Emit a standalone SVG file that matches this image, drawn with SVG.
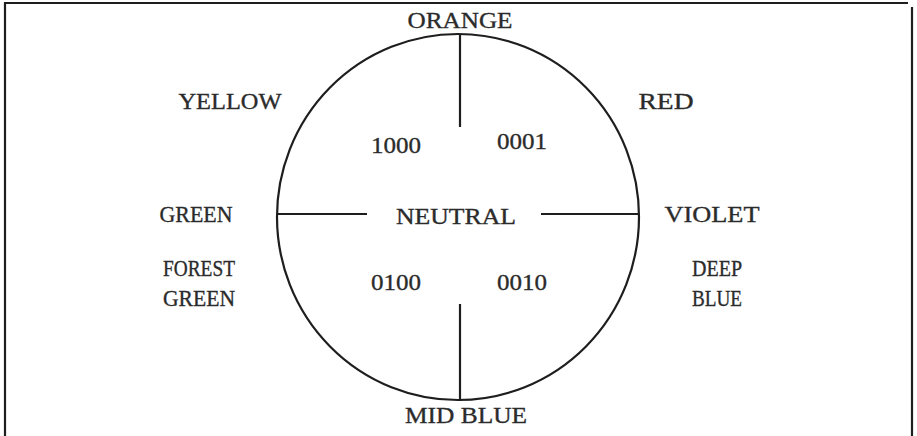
<svg xmlns="http://www.w3.org/2000/svg" width="917" height="436" viewBox="0 0 917 436">
<style>
text{font-family:"Liberation Serif","Times New Roman",serif;font-size:24px;fill:#2b2b2b;stroke:#2b2b2b;stroke-width:0.35;text-anchor:middle}
.ln{stroke:#1e1e1e;stroke-width:2.2;fill:none}
</style>
<rect width="917" height="436" fill="#fff"/>
<g id="frame"><path class="ln" d="M5,436 V3 H908 M912,7 V436"/></g>
<g id="wheel"><ellipse class="ln" cx="458" cy="217" rx="181" ry="183"/></g>
<g id="connectors">
<line class="ln" x1="460" y1="35" x2="460" y2="127"/>
<line class="ln" x1="460" y1="304" x2="460" y2="401"/>
<line class="ln" x1="277" y1="214" x2="367" y2="214"/>
<line class="ln" x1="541" y1="214" x2="639" y2="214"/>
</g>
<g id="orange"><text x="460" y="28" textLength="105" lengthAdjust="spacingAndGlyphs">ORANGE</text></g>
<g id="red"><text x="666" y="109" textLength="55" lengthAdjust="spacingAndGlyphs">RED</text></g>
<g id="yellow"><text x="230" y="109" textLength="103" lengthAdjust="spacingAndGlyphs">YELLOW</text></g>
<g id="c1000"><text x="396" y="153" textLength="50" lengthAdjust="spacingAndGlyphs">1000</text></g>
<g id="c0001"><text x="522" y="149" textLength="50" lengthAdjust="spacingAndGlyphs">0001</text></g>
<g id="green"><text x="196" y="222" textLength="73" lengthAdjust="spacingAndGlyphs">GREEN</text></g>
<g id="neutral"><text x="456" y="224" textLength="120" lengthAdjust="spacingAndGlyphs">NEUTRAL</text></g>
<g id="violet"><text x="712" y="222" textLength="95" lengthAdjust="spacingAndGlyphs">VIOLET</text></g>
<g id="forest"><text x="199" y="276" textLength="72" lengthAdjust="spacingAndGlyphs">FOREST</text><text x="199" y="306" textLength="72" lengthAdjust="spacingAndGlyphs">GREEN</text></g>
<g id="c0100"><text x="396" y="290" textLength="50" lengthAdjust="spacingAndGlyphs">0100</text></g>
<g id="c0010"><text x="522" y="290" textLength="50" lengthAdjust="spacingAndGlyphs">0010</text></g>
<g id="deepblue"><text x="717" y="276" textLength="50" lengthAdjust="spacingAndGlyphs">DEEP</text><text x="717" y="306" textLength="50" lengthAdjust="spacingAndGlyphs">BLUE</text></g>
<g id="midblue"><text x="466" y="423" textLength="122" lengthAdjust="spacingAndGlyphs">MID BLUE</text></g>
</svg>
